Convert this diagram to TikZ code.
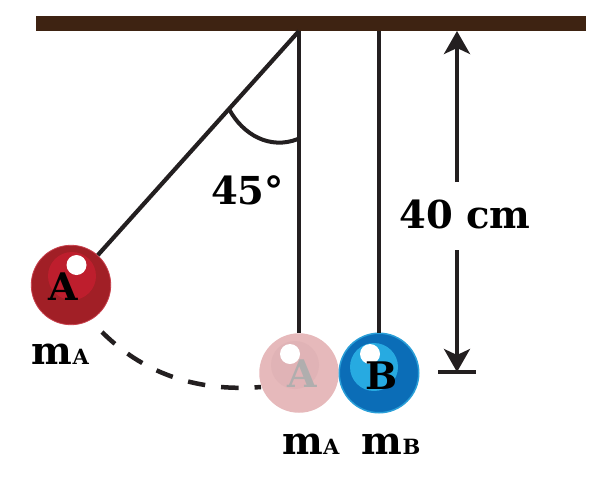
\documentclass[tikz,border=0pt]{standalone}
\usepackage{fontspec}
\setmainfont{DejaVu Serif}[BoldFont={DejaVu Serif Bold}]
\usetikzlibrary{arrows.meta}
\definecolor{barbrown}{HTML}{3E2312}
\definecolor{ink}{HTML}{231F20}
\definecolor{redouter}{HTML}{A11F26}
\definecolor{redinner}{HTML}{BE1E2D}
\definecolor{pinkouter}{HTML}{E6B9BB}
\definecolor{pinkinner}{HTML}{E0B3B6}
\definecolor{blueouter}{HTML}{0B6DB7}
\definecolor{blueinner}{HTML}{27AAE1}
\definecolor{bluerim}{HTML}{2A9FD8}
\definecolor{ghost}{HTML}{B0AEAE}
\tikzset{
  wire/.style={draw=ink,line width=4.2pt},
  ball/.style={circle,inner sep=0pt,minimum size=79.5pt},
  shade/.style={circle,inner sep=0pt,minimum size=48pt},
  shine/.style={circle,fill=white,inner sep=0pt,minimum size=20pt},
  lbl/.style={font=\bfseries\fontsize{38.5}{38.5}\selectfont,text=black,inner sep=0pt,anchor=base},
  balltext/.style={font=\bfseries\fontsize{38}{38}\selectfont,inner sep=0pt,anchor=base},
  dim/.style={draw=ink,line width=3.5pt},
  dimtip/.style={-{Stealth[length=23pt,width=26pt,inset=6pt]}}
}
\newcommand{\smallsub}[1]{{\fontsize{21}{21}\selectfont #1}}
\begin{document}
\begin{tikzpicture}[x=1pt,y=-1pt]
\useasboundingbox (0,0) rectangle (604,479);
% ceiling
\node[fill=barbrown,minimum width=550pt,minimum height=15pt,inner sep=0pt] (bar) at (311,23.5) {};
\coordinate (pivot) at (299,31);
\coordinate (pivotB) at (379,31);
% balls
\node[ball,fill=redouter,draw=redinner!85!white,line width=0.8pt] (ballA) at (71,285) {};
\node[ball,fill=pinkouter] (ghostA) at (299,373) {};
\node[ball,fill=blueouter,draw=bluerim,line width=1.5pt] (ballB) at (379,373) {};
\node[shade,fill=redinner] (shA) at (72,276) {};
\node[shade,fill=pinkinner] (shG) at (295,365) {};
\node[shade,fill=blueinner] (shB) at (374,367) {};
\node[shine] (hiA) at (76.5,265) {};
\node[shine] (hiG) at (290,354) {};
\node[shine] (hiB) at (370,354) {};
\node[balltext,text=black] (txtA) at (63,300) {A};
\node[balltext,text=ghost] (txtG) at (302,387) {A};
\node[balltext,text=black] (txtB) at (382,389) {B};
% strings
\draw[wire] (pivot) -- (ballA);
\draw[wire] (pivot) -- (ghostA);
\draw[wire] (pivotB) -- (ballB);
% angle
\coordinate (arcL) at (229,109);
\coordinate (arcR) at (298,139);
\draw[wire,line width=4pt] (arcL) .. controls (243,135) and (270,150) .. (arcR);
\node[lbl] (ang) at (247.5,204) {45°};
% swing path
\coordinate (swS) at (102,332);
\coordinate (swE) at (261,387);
\draw[wire,line width=4.5pt,dash pattern=on 17.5pt off 16pt] (swS) .. controls (135,365) and (185,393) .. (swE);
% dimension
\node[lbl] (len) at (465,228) {40 cm};
\coordinate (dTop) at (457,31);
\coordinate (dTopS) at (457,182);
\coordinate (dBotS) at (457,250);
\coordinate (dBot) at (457,372);
\coordinate (tickL) at (438,372);
\coordinate (tickR) at (476,372);
\draw[dim,dimtip] (dTopS) -- (dTop);
\draw[dim,dimtip] (dBotS) -- (dBot);
\draw[dim] (tickL) -- (tickR);
% masses
\node[lbl] (m1) at (60.5,364) {m\smallsub{A}};
\node[lbl] (m2) at (311,454) {m\smallsub{A}};
\node[lbl] (m3) at (391,454) {m\smallsub{B}};
\end{tikzpicture}
\end{document}
